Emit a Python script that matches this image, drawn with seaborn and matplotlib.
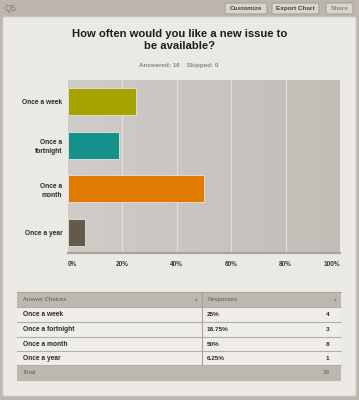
import numpy as np
import pandas as pd
import matplotlib
matplotlib.use("Agg")
import matplotlib.pyplot as plt
from matplotlib.patches import Rectangle, FancyBboxPatch
from matplotlib.colors import LinearSegmentedColormap
import seaborn as sns

# ---- data ----
categories = ["Once a week", "Once a fortnight", "Once a month", "Once a year"]
tick_labels_y = ["Once a week", "Once a\nfortnight", "Once a\nmonth", "Once a year"]
percents = [25.0, 18.75, 50.0, 6.25]
pct_labels = ["25%", "18.75%", "50%", "6.25%"]
counts = [4, 3, 8, 1]
total = 16
skipped = 0
x_ticks = [0, 20, 40, 60, 80, 100]
x_tick_labels = ["0%", "20%", "40%", "60%", "80%", "100%"]
bar_colors = ["#a6a300", "#14918a", "#e07a00", "#635b49"]

sns.set_theme(style="white")
plt.rcParams["font.family"] = ["Liberation Sans", "DejaVu Sans"]

W, H = 359, 400
fig = plt.figure(figsize=(W / 100, H / 100), dpi=100)
fig.patch.set_facecolor("#bcb6ad")

# background canvas in pixel coordinates
bg = fig.add_axes([0, 0, 1, 1], zorder=0)
bg.set_xlim(0, W)
bg.set_ylim(H, 0)
bg.axis("off")

# top bar
bg.text(5, 8.5, "Q5", fontsize=6.5, color="#847e76", va="center", ha="left")
for (x0, x1, label) in [(225, 267, "Customize"), (272, 319, "Export Chart"), (326, 353, "Share")]:
    bg.add_patch(FancyBboxPatch((x0, 3), x1 - x0, 11, boxstyle="round,pad=0,rounding_size=1.5",
                                facecolor="#d8d4ce", edgecolor="#9c968e", lw=0.6))
    bg.text((x0 + x1) / 2, 8.7, label, fontsize=4.6, fontweight="bold",
            color="#4a4640" if label != "Share" else "#8a857e", ha="center", va="center")

# inner panel
bg.add_patch(FancyBboxPatch((3, 17), 353, 379, boxstyle="round,pad=0,rounding_size=2",
                            facecolor="#ebe9e6", edgecolor="#d8d5d0", lw=0.6))

# title and subtitle
bg.text(179.5, 40, "How often would you like a new issue to\nbe available?", fontsize=8.1,
        fontweight="bold", color="#1c1c1c", ha="center", va="center", linespacing=1.2)
bg.text(179, 65, f"Answered: {total}    Skipped: {skipped}", fontsize=4.5, fontweight="bold",
        color="#8a8580", ha="center", va="center")

# ---- table ----
tx0, tx1, tdiv = 17, 341, 202
row_edges = [292, 307, 322, 337, 351, 365, 381]
bg.add_patch(Rectangle((tx0, row_edges[0]), tx1 - tx0, row_edges[1] - row_edges[0],
                       facecolor="#bdb7af", edgecolor="none"))
bg.add_patch(Rectangle((tx0, row_edges[1]), tx1 - tx0, row_edges[5] - row_edges[1],
                       facecolor="#efedea", edgecolor="none"))
bg.add_patch(Rectangle((tx0, row_edges[5]), tx1 - tx0, row_edges[6] - row_edges[5],
                       facecolor="#bdb7af", edgecolor="none"))
for y in row_edges[1:6]:
    bg.plot([tx0, tx1], [y, y], color="#b3aea7", lw=0.8)
bg.plot([tx0, tx1], [row_edges[0], row_edges[0]], color="#a9a39b", lw=0.8)
bg.plot([tdiv, tdiv], [row_edges[0], row_edges[5]], color="#a9a39b", lw=0.8)
hy = (row_edges[0] + row_edges[1]) / 2
bg.text(23, hy, "Answer Choices", fontsize=4.3, color="#5e5a55", va="center", ha="left")
bg.text(207, hy, "Responses", fontsize=4.3, color="#5e5a55", va="center", ha="left")
bg.text(196, hy, "▾", fontsize=4, color="#8a857e", va="center", ha="center")
bg.text(335, hy, "▾", fontsize=4, color="#8a857e", va="center", ha="center")
for i, cat in enumerate(categories):
    ry = (row_edges[i + 1] + row_edges[i + 2]) / 2
    bg.text(23, ry, cat, fontsize=4.8, fontweight="bold", color="#2a2a2a", va="center", ha="left")
    bg.text(207, ry, pct_labels[i], fontsize=4.6, fontweight="bold", color="#2a2a2a", va="center", ha="left")
    bg.text(329, ry, str(counts[i]), fontsize=4.6, fontweight="bold", color="#2a2a2a", va="center", ha="right")
ty = (row_edges[5] + row_edges[6]) / 2
bg.text(23, ty, "Total", fontsize=4.5, color="#5e5a55", va="center", ha="left")
bg.text(329, ty, str(total), fontsize=4.5, color="#5e5a55", va="center", ha="right")

# ---- chart ----
px0, px1, py0, py1 = 68, 340, 80, 253
ax = fig.add_axes([px0 / W, 1 - py1 / H, (px1 - px0) / W, (py1 - py0) / H], zorder=2)
ax.set_facecolor("none")

df = pd.DataFrame({"category": categories, "percent": percents})
sns.barplot(data=df, x="percent", y="category", hue="category", palette=bar_colors,
            order=categories, hue_order=categories, legend=False, width=0.62,
            saturation=1, edgecolor="#e6e3dd", linewidth=0.6, ax=ax, zorder=3)

ax.set_xlim(0, 100)
ax.set_ylim(3.47, -0.49)
# gradient background
grad = np.linspace(0, 1, 256)[None, :]
cmap = LinearSegmentedColormap.from_list("bgg", ["#d0ccc7", "#c8c4bf", "#c2bdb7"])
ax.imshow(grad, extent=(0, 100, 3.47, -0.49), aspect="auto", cmap=cmap, zorder=0)
for xv in x_ticks[1:-1]:
    ax.axvline(xv, color="#e2dfdb", lw=0.9, zorder=1)

ax.set_xticks(x_ticks)
labels = ax.set_xticklabels(x_tick_labels, fontsize=4.7, fontweight="bold", color="#3d3a36")
labels[0].set_ha("left")
labels[-1].set_ha("right")
ax.set_yticks(range(len(categories)))
ax.set_yticklabels(tick_labels_y, fontsize=4.8, fontweight="bold", color="#2a2a2a",
                   linespacing=1.4)
ax.tick_params(axis="both", length=0, pad=6)
ax.tick_params(axis="y", pad=4)
ax.set_xlabel("")
ax.set_ylabel("")
for s in ["top", "right", "left"]:
    ax.spines[s].set_visible(False)
ax.spines["bottom"].set_color("#a8a39c")
ax.spines["bottom"].set_linewidth(1.6)

fig.savefig("out.png", dpi=100, facecolor=fig.get_facecolor())
